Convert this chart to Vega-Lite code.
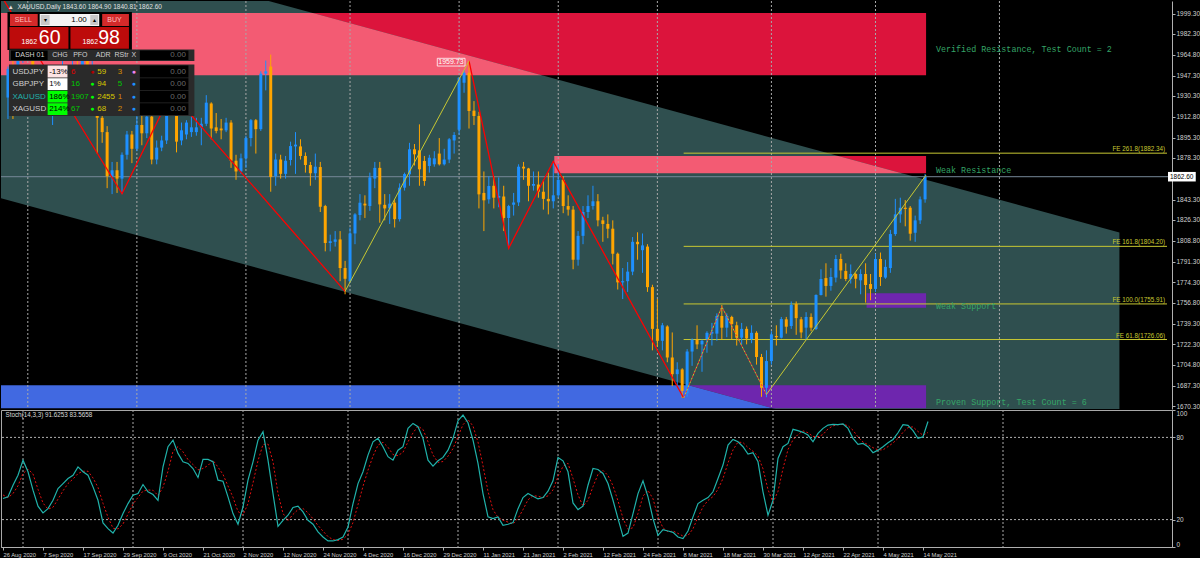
{
"$schema":"https://vega.github.io/schema/vega-lite/v6.json",
"background":"#000000",
"padding":0,
"spacing":1,
"bounds":"flush",
"config":{"view":{"stroke":null},"axis":{"labelFont":"Liberation Sans Narrow, Liberation Sans","labelFontSize":7,"labelColor":"#d0d0d0","tickColor":"#b0b0b0","domainColor":"#b0b0b0","tickSize":3,"labelPadding":1,"grid":false,"labelOverlap":false},"axisX":{"labelFontSize":5.8},"axisY":{"labelFontSize":6.5},"text":{"font":"Liberation Sans"}},
"datasets":{
"bars":[
{"n":0,"o":1929,"h":1955,"l":1911,"c":1953,"k":35.4,"d":38},
{"n":1,"o":1953,"h":1976,"l":1911,"c":1929,"k":36.6,"d":36},
{"n":2,"o":1929,"h":1975,"l":1925,"c":1964,"k":45,"d":39},
{"n":3,"o":1964,"h":1974,"l":1958,"c":1968,"k":52.4,"d":44.7},
{"n":4,"o":1968,"h":1992,"l":1963,"c":1970,"k":63.4,"d":53.6},
{"n":5,"o":1970,"h":1973,"l":1936,"c":1944,"k":54.9,"d":56.9},
{"n":6,"o":1944,"h":1952,"l":1917,"c":1930,"k":41.5,"d":53.3},
{"n":7,"o":1930,"h":1945,"l":1916,"c":1934,"k":29.8,"d":42.1},
{"n":8,"o":1934,"h":1937,"l":1922,"c":1929,"k":24.9,"d":32.1},
{"n":9,"o":1929,"h":1944,"l":1906,"c":1931,"k":28,"d":27.6},
{"n":10,"o":1931,"h":1953,"l":1926,"c":1946,"k":34.1,"d":29},
{"n":11,"o":1946,"h":1965,"l":1942,"c":1947,"k":42.7,"d":34.9},
{"n":12,"o":1947,"h":1952,"l":1939,"c":1940,"k":46.3,"d":41},
{"n":13,"o":1940,"h":1963,"l":1935,"c":1956,"k":50,"d":46.3},
{"n":14,"o":1956,"h":1966,"l":1950,"c":1955,"k":52.4,"d":49.6},
{"n":15,"o":1955,"h":1973,"l":1945,"c":1960,"k":58.5,"d":53.6},
{"n":16,"o":1960,"h":1962,"l":1931,"c":1944,"k":54.9,"d":55.3},
{"n":17,"o":1944,"h":1960,"l":1941,"c":1950,"k":52.4,"d":55.3},
{"n":18,"o":1950,"h":1955,"l":1882,"c":1912,"k":43.9,"d":50.4},
{"n":19,"o":1912,"h":1917,"l":1891,"c":1900,"k":34.1,"d":43.5},
{"n":20,"o":1900,"h":1905,"l":1853,"c":1863,"k":17.6,"d":31.9},
{"n":21,"o":1863,"h":1875,"l":1848,"c":1868,"k":13.4,"d":21.7},
{"n":22,"o":1868,"h":1875,"l":1849,"c":1861,"k":10.2,"d":13.7},
{"n":23,"o":1861,"h":1883,"l":1848,"c":1881,"k":15.9,"d":13.2},
{"n":24,"o":1881,"h":1901,"l":1877,"c":1898,"k":24.4,"d":16.8},
{"n":25,"o":1898,"h":1901,"l":1874,"c":1886,"k":31.7,"d":24},
{"n":26,"o":1886,"h":1917,"l":1884,"c":1906,"k":37.8,"d":31.3},
{"n":27,"o":1906,"h":1918,"l":1889,"c":1899,"k":39,"d":36.2},
{"n":28,"o":1899,"h":1920,"l":1895,"c":1913,"k":45.6,"d":40.8},
{"n":29,"o":1913,"h":1920,"l":1873,"c":1877,"k":40.3,"d":41.6},
{"n":30,"o":1877,"h":1893,"l":1873,"c":1887,"k":38.3,"d":41.4},
{"n":31,"o":1887,"h":1897,"l":1884,"c":1893,"k":34.1,"d":37.6},
{"n":32,"o":1893,"h":1933,"l":1890,"c":1930,"k":58.5,"d":43.6},
{"n":33,"o":1930,"h":1933,"l":1917,"c":1922,"k":73.2,"d":55.3},
{"n":34,"o":1922,"h":1925,"l":1883,"c":1892,"k":78,"d":69.9},
{"n":35,"o":1893,"h":1908,"l":1889,"c":1901.5,"k":68.3,"d":73.2},
{"n":36,"o":1898,"h":1910,"l":1894,"c":1908,"k":62.2,"d":69.5},
{"n":37,"o":1900,"h":1913,"l":1896,"c":1904,"k":61,"d":63.8},
{"n":38,"o":1900,"h":1912,"l":1897,"c":1904,"k":57.3,"d":60.2},
{"n":39,"o":1904,"h":1912,"l":1889,"c":1907,"k":50.7,"d":56.3},
{"n":40,"o":1907,"h":1931,"l":1905,"c":1924.7,"k":63.9,"d":57.3},
{"n":41,"o":1924,"h":1925,"l":1894,"c":1903,"k":63.9,"d":59.5},
{"n":42,"o":1904,"h":1916,"l":1899,"c":1901,"k":62.2,"d":63.3},
{"n":43,"o":1903,"h":1911,"l":1894,"c":1901.5,"k":48.8,"d":58.3},
{"n":44,"o":1901.5,"h":1912,"l":1900,"c":1908,"k":48,"d":53},
{"n":45,"o":1908,"h":1910,"l":1870,"c":1876,"k":36.6,"d":44.5},
{"n":46,"o":1876,"h":1881,"l":1860,"c":1867,"k":24.4,"d":36.3},
{"n":47,"o":1867,"h":1882,"l":1865,"c":1878,"k":16.6,"d":25.9},
{"n":48,"o":1878,"h":1897,"l":1870,"c":1895,"k":29.3,"d":23.4},
{"n":49,"o":1895,"h":1911,"l":1888,"c":1910,"k":48.8,"d":31.6},
{"n":50,"o":1910,"h":1911,"l":1882,"c":1902.5,"k":62.2,"d":46.8},
{"n":51,"o":1902.5,"h":1951,"l":1901,"c":1949,"k":78,"d":63},
{"n":52,"o":1949,"h":1960,"l":1935,"c":1951,"k":84.1,"d":74.8},
{"n":53,"o":1955,"h":1965,"l":1850,"c":1862.4,"k":63.4,"d":75.2},
{"n":54,"o":1863,"h":1882,"l":1855,"c":1877,"k":39,"d":62.2},
{"n":55,"o":1877,"h":1881,"l":1861,"c":1865,"k":15.1,"d":39.2},
{"n":56,"o":1865,"h":1880,"l":1861,"c":1876,"k":19.5,"d":24.5},
{"n":57,"o":1876.6,"h":1892,"l":1872,"c":1888.3,"k":23.2,"d":19.3},
{"n":58,"o":1888,"h":1900,"l":1865,"c":1889.5,"k":28.8,"d":23.8},
{"n":59,"o":1888,"h":1894,"l":1877,"c":1880,"k":29.8,"d":27.3},
{"n":60,"o":1880,"h":1883,"l":1866,"c":1872.4,"k":25.6,"d":28.1},
{"n":61,"o":1872.4,"h":1875,"l":1855,"c":1865.5,"k":19.5,"d":25},
{"n":62,"o":1865.5,"h":1882,"l":1860,"c":1871,"k":16.6,"d":20.6},
{"n":63,"o":1870.7,"h":1875,"l":1833,"c":1837.4,"k":11,"d":15.7},
{"n":64,"o":1838,"h":1839,"l":1800,"c":1807,"k":7.3,"d":11.6},
{"n":65,"o":1807,"h":1814,"l":1800,"c":1808.5,"k":4.4,"d":7.6},
{"n":66,"o":1808,"h":1817,"l":1804,"c":1810,"k":4.4,"d":5.4},
{"n":67,"o":1810,"h":1817,"l":1775,"c":1786,"k":5.4,"d":4.7},
{"n":68,"o":1786,"h":1792,"l":1764,"c":1777,"k":7.3,"d":5.7},
{"n":69,"o":1775,"h":1820,"l":1774,"c":1815,"k":14.6,"d":9.1},
{"n":70,"o":1815,"h":1832,"l":1806,"c":1831,"k":31.7,"d":17.9},
{"n":71,"o":1830.5,"h":1848,"l":1826,"c":1840.8,"k":46.3,"d":30.9},
{"n":72,"o":1840,"h":1847,"l":1828,"c":1838.5,"k":54.9,"d":44.3},
{"n":73,"o":1838,"h":1866,"l":1834,"c":1862,"k":67.1,"d":56.1},
{"n":74,"o":1861,"h":1875,"l":1853,"c":1870,"k":76.8,"d":66.3},
{"n":75,"o":1870,"h":1875,"l":1824,"c":1839.4,"k":79.3,"d":74.4},
{"n":76,"o":1839,"h":1848,"l":1826,"c":1836,"k":73.2,"d":76.4},
{"n":77,"o":1836,"h":1848,"l":1823,"c":1840,"k":65.9,"d":72.8},
{"n":78,"o":1840.8,"h":1843,"l":1820,"c":1827,"k":63.4,"d":67.5},
{"n":79,"o":1827,"h":1857,"l":1825,"c":1853.4,"k":70.7,"d":66.7},
{"n":80,"o":1853.4,"h":1866,"l":1851,"c":1864.8,"k":73.2,"d":69.1},
{"n":81,"o":1864.6,"h":1891,"l":1855,"c":1885.6,"k":86.6,"d":76.8},
{"n":82,"o":1885.6,"h":1890,"l":1872,"c":1881.4,"k":90.2,"d":83.3},
{"n":83,"o":1884.7,"h":1906.5,"l":1855,"c":1868.8,"k":87.8,"d":88.2},
{"n":84,"o":1875.8,"h":1880,"l":1855,"c":1859,"k":79.3,"d":85.8},
{"n":85,"o":1871.6,"h":1881,"l":1866,"c":1878.5,"k":63.4,"d":76.8},
{"n":86,"o":1873,"h":1884,"l":1871,"c":1878,"k":59,"d":67.2},
{"n":87,"o":1882,"h":1895,"l":1872,"c":1873,"k":62.9,"d":61.8},
{"n":88,"o":1873,"h":1886,"l":1872,"c":1877,"k":65.4,"d":62.4},
{"n":89,"o":1877,"h":1895,"l":1874,"c":1894,"k":70.7,"d":66.3},
{"n":90,"o":1893,"h":1900,"l":1882,"c":1897.6,"k":79.3,"d":71.8},
{"n":91,"o":1902,"h":1944,"l":1898,"c":1945.6,"k":92.2,"d":80.7},
{"n":92,"o":1941.4,"h":1952,"l":1933,"c":1949.8,"k":96.3,"d":89.3},
{"n":93,"o":1949.8,"h":1959.7,"l":1903,"c":1917.7,"k":90.7,"d":93.1},
{"n":94,"o":1918,"h":1926,"l":1906,"c":1913.5,"k":78,"d":88.3},
{"n":95,"o":1913.5,"h":1917,"l":1836,"c":1847.8,"k":61,"d":76.6},
{"n":96,"o":1849,"h":1867,"l":1817,"c":1842.8,"k":39,"d":59.3},
{"n":97,"o":1843.6,"h":1863,"l":1840,"c":1854.8,"k":22,"d":40.7},
{"n":98,"o":1855,"h":1863,"l":1836,"c":1845,"k":20.7,"d":27.2},
{"n":99,"o":1845,"h":1862,"l":1837,"c":1846.5,"k":22,"d":21.6},
{"n":100,"o":1846,"h":1855,"l":1817,"c":1828,"k":15.9,"d":19.5},
{"n":101,"o":1828,"h":1839,"l":1802.5,"c":1838,"k":16.6,"d":18.2},
{"n":102,"o":1839,"h":1849,"l":1830,"c":1841,"k":17.8,"d":16.8},
{"n":103,"o":1841,"h":1873,"l":1838,"c":1871,"k":28,"d":20.8},
{"n":104,"o":1871,"h":1875,"l":1860,"c":1869.5,"k":36.1,"d":27.3},
{"n":105,"o":1869.5,"h":1870,"l":1842,"c":1855,"k":39,"d":34.4},
{"n":106,"o":1855,"h":1867,"l":1851,"c":1856.5,"k":37.1,"d":37.4},
{"n":107,"o":1856,"h":1867,"l":1845,"c":1850,"k":35.1,"d":37.1},
{"n":108,"o":1850,"h":1860,"l":1835,"c":1844,"k":36.1,"d":36.1},
{"n":109,"o":1844,"h":1866,"l":1831,"c":1842,"k":40.7,"d":37.3},
{"n":110,"o":1842,"h":1875.5,"l":1836,"c":1847,"k":48.3,"d":41.7},
{"n":111,"o":1847,"h":1873,"l":1845,"c":1860,"k":65.4,"d":51.5},
{"n":112,"o":1860,"h":1863,"l":1832,"c":1838,"k":62.9,"d":58.9},
{"n":113,"o":1838,"h":1847,"l":1830,"c":1835,"k":54.9,"d":61.1},
{"n":114,"o":1835,"h":1838,"l":1785,"c":1793,"k":32.2,"d":50},
{"n":115,"o":1793,"h":1817,"l":1788,"c":1813,"k":27.3,"d":38.1},
{"n":116,"o":1813,"h":1838,"l":1806,"c":1833,"k":29.8,"d":29.8},
{"n":117,"o":1833,"h":1847,"l":1828,"c":1838,"k":45.1,"d":34.1},
{"n":118,"o":1838,"h":1855,"l":1835,"c":1842,"k":57.3,"d":44.1},
{"n":119,"o":1842,"h":1848,"l":1821,"c":1826,"k":56.6,"d":53},
{"n":120,"o":1826,"h":1829,"l":1808,"c":1823,"k":53.7,"d":55.9},
{"n":121,"o":1823,"h":1831,"l":1811,"c":1819,"k":46.3,"d":52.2},
{"n":122,"o":1819,"h":1826,"l":1789,"c":1798,"k":34.1,"d":44.7},
{"n":123,"o":1798,"h":1799,"l":1768,"c":1774,"k":20.7,"d":33.7},
{"n":124,"o":1774,"h":1786,"l":1760,"c":1775,"k":7.8,"d":20.9},
{"n":125,"o":1775,"h":1791,"l":1766,"c":1783,"k":10.2,"d":12.9},
{"n":126,"o":1783,"h":1812,"l":1780,"c":1808,"k":24.4,"d":14.1},
{"n":127,"o":1808,"h":1816,"l":1793,"c":1806,"k":39,"d":24.5},
{"n":128,"o":1801,"h":1815,"l":1782,"c":1805,"k":48.3,"d":37.2},
{"n":129,"o":1804,"h":1806,"l":1766,"c":1770,"k":36.6,"d":41.3},
{"n":130,"o":1770,"h":1772,"l":1717,"c":1735,"k":20.7,"d":35.2},
{"n":131,"o":1735,"h":1760,"l":1720,"c":1725,"k":8.5,"d":21.9},
{"n":132,"o":1725,"h":1740,"l":1717,"c":1738,"k":12.7,"d":14},
{"n":133,"o":1737,"h":1738,"l":1707,"c":1711,"k":11.7,"d":11},
{"n":134,"o":1711,"h":1732,"l":1687,"c":1697,"k":10.7,"d":11.7},
{"n":135,"o":1697,"h":1707,"l":1687,"c":1701,"k":7.3,"d":9.9},
{"n":136,"o":1701,"h":1702,"l":1677,"c":1683,"k":6.1,"d":8},
{"n":137,"o":1681,"h":1718,"l":1678,"c":1716,"k":11.7,"d":8.4},
{"n":138,"o":1716,"h":1727,"l":1704,"c":1726,"k":22,"d":13.3},
{"n":139,"o":1726,"h":1738,"l":1718,"c":1722,"k":31.7,"d":21.8},
{"n":140,"o":1722,"h":1726,"l":1699,"c":1725,"k":34.1,"d":29.3},
{"n":141,"o":1726.5,"h":1733,"l":1715,"c":1731.7,"k":36.1,"d":34},
{"n":142,"o":1731,"h":1740,"l":1721,"c":1732.5,"k":40.3,"d":36.8},
{"n":143,"o":1731,"h":1748,"l":1725,"c":1745.8,"k":50,"d":42.1},
{"n":144,"o":1745.8,"h":1755,"l":1726,"c":1736,"k":59.8,"d":50},
{"n":145,"o":1736,"h":1748,"l":1728,"c":1745.8,"k":74.4,"d":61.4},
{"n":146,"o":1745,"h":1746,"l":1726,"c":1739,"k":78.5,"d":70.9},
{"n":147,"o":1738,"h":1741,"l":1721,"c":1727.6,"k":76.8,"d":76.6},
{"n":148,"o":1727.6,"h":1740,"l":1722,"c":1735,"k":73.2,"d":76.2},
{"n":149,"o":1735,"h":1737,"l":1722,"c":1727,"k":67.8,"d":72.6},
{"n":150,"o":1726.5,"h":1738,"l":1723,"c":1731.7,"k":68.8,"d":69.9},
{"n":151,"o":1731.7,"h":1733,"l":1705,"c":1711.4,"k":62.2,"d":66.3},
{"n":152,"o":1711.4,"h":1714,"l":1678,"c":1685.6,"k":40.3,"d":57.1},
{"n":153,"o":1685.6,"h":1717,"l":1677.7,"c":1708,"k":23.2,"d":41.9},
{"n":154,"o":1708,"h":1733,"l":1705,"c":1730.4,"k":34.1,"d":32.5},
{"n":155,"o":1729,"h":1738,"l":1721,"c":1728,"k":64.6,"d":40.6},
{"n":156,"o":1727.6,"h":1745,"l":1727,"c":1743.2,"k":73.2,"d":57.3},
{"n":157,"o":1743,"h":1745,"l":1731,"c":1736.8,"k":75.6,"d":71.1},
{"n":158,"o":1737.4,"h":1758,"l":1735,"c":1755,"k":85.9,"d":78.2},
{"n":159,"o":1755.8,"h":1758,"l":1730,"c":1744,"k":84.9,"d":82.1},
{"n":160,"o":1743,"h":1745,"l":1727,"c":1732,"k":83.7,"d":84.8},
{"n":161,"o":1736,"h":1749,"l":1726,"c":1745,"k":81.7,"d":83.4},
{"n":162,"o":1745,"h":1748,"l":1733,"c":1736,"k":76.8,"d":80.7},
{"n":163,"o":1734.9,"h":1764,"l":1734,"c":1763.4,"k":82.9,"d":80.5},
{"n":164,"o":1763.4,"h":1785,"l":1763,"c":1776.8,"k":86.6,"d":82.1},
{"n":165,"o":1777.6,"h":1790,"l":1762,"c":1771,"k":89,"d":86.2},
{"n":166,"o":1771,"h":1786,"l":1767,"c":1778.5,"k":89.5,"d":88.4},
{"n":167,"o":1778,"h":1797,"l":1774,"c":1793.6,"k":89.3,"d":89.3},
{"n":168,"o":1793.6,"h":1798,"l":1777,"c":1784,"k":89.8,"d":89.5},
{"n":169,"o":1783.5,"h":1790,"l":1775,"c":1776.8,"k":86.6,"d":88.6},
{"n":170,"o":1777,"h":1789,"l":1773,"c":1781,"k":79.3,"d":85.2},
{"n":171,"o":1781,"h":1782,"l":1769,"c":1777,"k":74.9,"d":80.3},
{"n":172,"o":1775.7,"h":1785,"l":1764,"c":1781,"k":75.6,"d":76.6},
{"n":173,"o":1781,"h":1790,"l":1757,"c":1771.8,"k":73.2,"d":74.6},
{"n":174,"o":1772.6,"h":1781,"l":1759,"c":1768.5,"k":68.8,"d":72.5},
{"n":175,"o":1768.5,"h":1798,"l":1766,"c":1793.6,"k":70.7,"d":70.9},
{"n":176,"o":1793.6,"h":1799,"l":1771,"c":1778.5,"k":73.2,"d":70.9},
{"n":177,"o":1778,"h":1793,"l":1777,"c":1787,"k":76.1,"d":73.3},
{"n":178,"o":1786,"h":1818,"l":1782,"c":1814.5,"k":78.5,"d":75.9},
{"n":179,"o":1814.5,"h":1844,"l":1813,"c":1831,"k":83.4,"d":79.3},
{"n":180,"o":1831,"h":1845,"l":1824,"c":1836.6,"k":89.3,"d":83.7},
{"n":181,"o":1836.6,"h":1843,"l":1821,"c":1835.5,"k":88.8,"d":87.2},
{"n":182,"o":1836.6,"h":1838,"l":1809,"c":1814.8,"k":84.9,"d":87.7},
{"n":183,"o":1815.6,"h":1830,"l":1808,"c":1826,"k":79.3,"d":84.3},
{"n":184,"o":1826,"h":1846,"l":1823,"c":1843.6,"k":80.5,"d":81.6},
{"n":185,"o":1843.6,"h":1864.9,"l":1840.81,"c":1862.6,"k":91.6,"d":83.6}
],
"zones":[
{"name":"Verified Resistance, Test Count = 2","kind":"res","n1":-3,"n2":185.2,"top":1999.9,"bot":1947.6},
{"name":"Weak Resistance","kind":"res","n1":110.2,"n2":185.2,"top":1880,"bot":1865.5},
{"name":"Weak Support","kind":"sup","n1":173.2,"n2":185.2,"top":1764.8,"bot":1752.7},
{"name":"Proven Support, Test Count = 6","kind":"sup","n1":-3,"n2":185.2,"top":1687.7,"bot":1668.5}
],
"chan":[{"n":-3,"up":2072.8,"lo":1846.4},{"n":224.2,"up":1815.9,"lo":1589.4}],
"xor":[
{"g":"vr","kind":"res","n":-3,"top":1999.9,"bot":1947.6},
{"g":"vr","kind":"res","n":61.5,"top":1999.9,"bot":1947.6},
{"g":"vr","kind":"res","n":107.7,"top":1947.6,"bot":1947.6},
{"g":"wr","kind":"res","n":110.2,"top":1880,"bot":1865.5},
{"g":"wr","kind":"res","n":167.5,"top":1880,"bot":1865.5},
{"g":"wr","kind":"res","n":180.3,"top":1865.5,"bot":1865.5},
{"g":"ws","kind":"sup","n":173.2,"top":1764.8,"bot":1752.7},
{"g":"ws","kind":"sup","n":185.2,"top":1764.8,"bot":1752.7},
{"g":"ps","kind":"sup","n":137.3,"top":1687.7,"bot":1687.7},
{"g":"ps","kind":"sup","n":154.3,"top":1687.7,"bot":1668.5},
{"g":"ps","kind":"sup","n":185.2,"top":1687.7,"bot":1668.5}
],
"months":[{"n":4},{"n":26},{"n":48},{"n":69},{"n":91},{"n":111},{"n":131},{"n":154},{"n":175},{"n":200}],
"zz":[
{"seg":"r1","n":-3,"p":2025.4},{"seg":"r1","n":23,"p":1848.3},{"seg":"r1","n":33,"p":1933},{"seg":"r1","n":68,"p":1766.5},
{"seg":"y1","n":68,"p":1766.5},{"seg":"y1","n":93,"p":1959.7},
{"seg":"r2","n":93,"p":1959.7},{"seg":"r2","n":101,"p":1802.5},{"seg":"r2","n":110,"p":1875.5},{"seg":"r2","n":136.3,"p":1677},
{"seg":"dt","n":136.3,"p":1677},{"seg":"dt","n":144,"p":1753.6},{"seg":"dt","n":153,"p":1680},
{"seg":"y2","n":153,"p":1680},{"seg":"y2","n":185.2,"p":1864}
],
"fe":[
{"p":1882.34,"label":"FE 261.8(1882.34)"},
{"p":1804.2,"label":"FE 161.8(1804.20)"},
{"p":1755.91,"label":"FE 100.0(1755.91)"},
{"p":1726.06,"label":"FE 61.8(1726.06)"}
],
"dashRects":[
{"n1":-0.1,"n2":25.0,"p1":2000.73,"p2":1968.86,"kind":"frame"},
{"n1":0.4,"n2":6.0,"p1":1999.05,"p2":1988.99,"kind":"btn"},
{"n1":19.0,"n2":24.4,"p1":1999.05,"p2":1988.99,"kind":"btn"},
{"n1":6.4,"n2":18.4,"p1":1999.05,"p2":1988.99,"kind":"field"},
{"n1":6.6,"n2":8.4,"p1":1998.21,"p2":1989.82,"kind":"arrow"},
{"n1":16.6,"n2":18.2,"p1":1998.21,"p2":1989.82,"kind":"arrow"},
{"n1":0.3,"n2":12.2,"p1":1988.15,"p2":1969.95,"kind":"quote"},
{"n1":12.6,"n2":24.4,"p1":1988.15,"p2":1969.95,"kind":"quote"},
{"n1":0.2,"n2":37.6,"p1":1969.28,"p2":1959.63,"kind":"tbl"},
{"n1":0.6,"n2":8.0,"p1":1968.44,"p2":1960.47,"kind":"cell"},
{"n1":26.6,"n2":36.4,"p1":1968.44,"p2":1960.47,"kind":"cell"},
{"n1":0.2,"n2":37.6,"p1":1956.7,"p2":1913.51,"kind":"tbl"},
{"n1":8.0,"n2":12.0,"p1":1955.86,"p2":1945.8,"kind":"pink"},
{"n1":8.0,"n2":12.0,"p1":1945.13,"p2":1935.32,"kind":"white"},
{"n1":8.0,"n2":12.0,"p1":1934.65,"p2":1924.83,"kind":"lime"},
{"n1":8.0,"n2":12.0,"p1":1924.16,"p2":1914.35,"kind":"lime"},
{"n1":26.6,"n2":36.4,"p1":1955.86,"p2":1945.8,"kind":"cell"},
{"n1":26.6,"n2":36.4,"p1":1945.13,"p2":1935.32,"kind":"cell"},
{"n1":26.6,"n2":36.4,"p1":1934.65,"p2":1924.83,"kind":"cell"},
{"n1":26.6,"n2":36.4,"p1":1924.16,"p2":1914.35,"kind":"cell"}
],
"dashC":[
{"n":3.1,"p":1994.18,"t":"SELL","tone":"pinkish","role":"small"},
{"n":21.5,"p":1994.18,"t":"BUY","tone":"pinkish","role":"small"},
{"n":7.5,"p":1994.18,"t":"▾","tone":"dark","role":"tiny"},
{"n":17.4,"p":1994.18,"t":"▴","tone":"dark","role":"tiny"},
{"n":4.3,"p":1975.15,"t":"1862","tone":"white","role":"small"},
{"n":8.4,"p":1979.09,"t":"60","tone":"white","role":"big"},
{"n":16.6,"p":1975.15,"t":"1862","tone":"white","role":"small"},
{"n":20.4,"p":1979.09,"t":"98","tone":"white","role":"big"},
{"n":4.4,"p":1964.33,"t":"DASH 01","tone":"light","role":"small"},
{"n":10.5,"p":1964.33,"t":"CHG","tone":"light","role":"small"},
{"n":14.6,"p":1964.33,"t":"PFO","tone":"light","role":"small"},
{"n":19.2,"p":1964.33,"t":"ADR","tone":"light","role":"small"},
{"n":22.9,"p":1964.33,"t":"RStr","tone":"light","role":"small"},
{"n":25.4,"p":1964.33,"t":"X","tone":"light","role":"small"},
{"n":17.0,"p":1950.66,"t":"●","tone":"darkred","role":"dot"},
{"n":17.0,"p":1940.1,"t":"●","tone":"lime","role":"dot"},
{"n":17.0,"p":1929.45,"t":"●","tone":"lime","role":"dot"},
{"n":17.0,"p":1919.13,"t":"●","tone":"lime","role":"dot"},
{"n":25.4,"p":1950.66,"t":"●","tone":"violet","role":"dot"},
{"n":25.4,"p":1940.1,"t":"●","tone":"blue","role":"dot"},
{"n":25.4,"p":1929.45,"t":"●","tone":"blue","role":"dot"},
{"n":25.4,"p":1919.13,"t":"●","tone":"blue","role":"dot"},
{"n":22.6,"p":1950.66,"t":"3","tone":"orange","role":"mid"},
{"n":22.6,"p":1940.1,"t":"5","tone":"green","role":"mid"},
{"n":22.6,"p":1929.45,"t":"1","tone":"orange","role":"mid"},
{"n":22.6,"p":1919.13,"t":"2","tone":"orange","role":"mid"}
],
"dashL":[
{"n":0.9,"p":1950.66,"t":"USDJPY","tone":"light","role":"mid"},
{"n":0.9,"p":1940.1,"t":"GBPJPY","tone":"light","role":"mid"},
{"n":0.9,"p":1929.45,"t":"XAUUSD","tone":"teal","role":"mid"},
{"n":0.9,"p":1919.13,"t":"XAGUSD","tone":"light","role":"mid"},
{"n":8.3,"p":1950.66,"t":"-13%","tone":"dark","role":"mid"},
{"n":8.3,"p":1940.1,"t":"1%","tone":"dark","role":"mid"},
{"n":8.3,"p":1929.45,"t":"186%","tone":"dark","role":"mid"},
{"n":8.3,"p":1919.13,"t":"214%","tone":"dark","role":"mid"},
{"n":12.7,"p":1950.66,"t":"6","tone":"red","role":"mid"},
{"n":12.7,"p":1940.1,"t":"16","tone":"green","role":"mid"},
{"n":12.7,"p":1929.45,"t":"1907","tone":"green","role":"mid"},
{"n":12.7,"p":1919.13,"t":"67","tone":"green","role":"mid"},
{"n":18.0,"p":1950.66,"t":"59","tone":"gold","role":"mid"},
{"n":18.0,"p":1940.1,"t":"94","tone":"gold","role":"mid"},
{"n":18.0,"p":1929.45,"t":"2455","tone":"gold","role":"mid"},
{"n":18.0,"p":1919.13,"t":"68","tone":"gold","role":"mid"}
],
"dashR":[
{"n":15.9,"p":1994.18,"t":"1.00","tone":"dark","role":"mid"},
{"n":35.9,"p":1964.33,"t":"0.00","tone":"gray","role":"mid"},
{"n":35.9,"p":1950.66,"t":"0.00","tone":"gray","role":"mid"},
{"n":35.9,"p":1940.1,"t":"0.00","tone":"gray","role":"mid"},
{"n":35.9,"p":1929.45,"t":"0.00","tone":"gray","role":"mid"},
{"n":35.9,"p":1919.13,"t":"0.00","tone":"gray","role":"mid"}
]
},
"vconcat":[
{
"width":1171,"height":408,
"layer":[
{"data":{"name":"zones"},"transform":[{"filter":"datum.kind == 'res'"}],"mark":{"type":"rect","color":"#DC143C","clip":true},
 "encoding":{"x":{"field":"n1","type":"quantitative","scale":{"domain":[-0.4,233.8],"nice":false,"zero":false},"axis":null},"x2":{"field":"n2"},
 "y":{"field":"top","type":"quantitative","scale":{"domain":[1667.8,2009.95],"nice":false,"zero":false},"axis":{"orient":"right","title":null,"format":".2f","labelFlush":false,"values":[1999.3,1982.3,1964.8,1947.3,1930.3,1912.8,1895.3,1878.3,1843.3,1826.3,1808.8,1791.3,1774.3,1756.8,1739.3,1722.3,1704.8,1687.3,1670.3]}},"y2":{"field":"bot"}}},
{"data":{"name":"zones"},"transform":[{"filter":"datum.kind == 'sup'"}],"mark":{"type":"rect","color":"#4169E1","clip":true},
 "encoding":{"x":{"field":"n1","type":"quantitative","scale":{"domain":[-0.4,233.8],"nice":false,"zero":false},"axis":null},"x2":{"field":"n2"},
 "y":{"field":"top","type":"quantitative","scale":{"domain":[1667.8,2009.95],"nice":false,"zero":false},"axis":{"orient":"right","title":null,"format":".2f","labelFlush":false,"values":[1999.3,1982.3,1964.8,1947.3,1930.3,1912.8,1895.3,1878.3,1843.3,1826.3,1808.8,1791.3,1774.3,1756.8,1739.3,1722.3,1704.8,1687.3,1670.3]}},"y2":{"field":"bot"}}},
{"data":{"name":"chan"},"mark":{"type":"area","color":"#2F4F4F","opacity":1,"clip":true},
 "encoding":{"x":{"field":"n","type":"quantitative","scale":{"domain":[-0.4,233.8],"nice":false,"zero":false},"axis":null},
 "y":{"field":"up","type":"quantitative","scale":{"domain":[1667.8,2009.95],"nice":false,"zero":false},"axis":{"orient":"right","title":null,"format":".2f","labelFlush":false,"values":[1999.3,1982.3,1964.8,1947.3,1930.3,1912.8,1895.3,1878.3,1843.3,1826.3,1808.8,1791.3,1774.3,1756.8,1739.3,1722.3,1704.8,1687.3,1670.3]}},"y2":{"field":"lo"}}},
{"data":{"name":"xor"},"transform":[{"filter":"datum.kind == 'res'"}],"mark":{"type":"area","color":"#F35B73","opacity":1,"clip":true},
 "encoding":{"x":{"field":"n","type":"quantitative","scale":{"domain":[-0.4,233.8],"nice":false,"zero":false},"axis":null},
 "y":{"field":"top","type":"quantitative","scale":{"domain":[1667.8,2009.95],"nice":false,"zero":false},"axis":{"orient":"right","title":null,"format":".2f","labelFlush":false,"values":[1999.3,1982.3,1964.8,1947.3,1930.3,1912.8,1895.3,1878.3,1843.3,1826.3,1808.8,1791.3,1774.3,1756.8,1739.3,1722.3,1704.8,1687.3,1670.3]}},"y2":{"field":"bot"},"detail":{"field":"g"}}},
{"data":{"name":"xor"},"transform":[{"filter":"datum.kind == 'sup'"}],"mark":{"type":"area","color":"#6E26AE","opacity":1,"clip":true},
 "encoding":{"x":{"field":"n","type":"quantitative","scale":{"domain":[-0.4,233.8],"nice":false,"zero":false},"axis":null},
 "y":{"field":"top","type":"quantitative","scale":{"domain":[1667.8,2009.95],"nice":false,"zero":false},"axis":{"orient":"right","title":null,"format":".2f","labelFlush":false,"values":[1999.3,1982.3,1964.8,1947.3,1930.3,1912.8,1895.3,1878.3,1843.3,1826.3,1808.8,1791.3,1774.3,1756.8,1739.3,1722.3,1704.8,1687.3,1670.3]}},"y2":{"field":"bot"},"detail":{"field":"g"}}},
{"data":{"name":"months"},"mark":{"type":"rule","color":"#a8a8a8","strokeDash":[2,2],"strokeWidth":1},
 "encoding":{"x":{"field":"n","type":"quantitative","scale":{"domain":[-0.4,233.8],"nice":false,"zero":false},"axis":null}}},
{"data":{"values":[{"p":1862.6}]},"mark":{"type":"rule","color":"#778899","strokeWidth":1},
 "encoding":{"y":{"field":"p","type":"quantitative","scale":{"domain":[1667.8,2009.95],"nice":false,"zero":false},"axis":{"orient":"right","title":null,"format":".2f","labelFlush":false,"values":[1999.3,1982.3,1964.8,1947.3,1930.3,1912.8,1895.3,1878.3,1843.3,1826.3,1808.8,1791.3,1774.3,1756.8,1739.3,1722.3,1704.8,1687.3,1670.3]}}}},
{"data":{"name":"fe"},"mark":{"type":"rule","color":"#c8c832","strokeWidth":1,"clip":true},
 "encoding":{"x":{"datum":136.3,"type":"quantitative","scale":{"domain":[-0.4,233.8],"nice":false,"zero":false},"axis":null},"x2":{"datum":233.8},
 "y":{"field":"p","type":"quantitative","scale":{"domain":[1667.8,2009.95],"nice":false,"zero":false},"axis":{"orient":"right","title":null,"format":".2f","labelFlush":false,"values":[1999.3,1982.3,1964.8,1947.3,1930.3,1912.8,1895.3,1878.3,1843.3,1826.3,1808.8,1791.3,1774.3,1756.8,1739.3,1722.3,1704.8,1687.3,1670.3]}}}},
{"data":{"name":"bars"},"mark":{"type":"rule","strokeWidth":1},
 "encoding":{"x":{"field":"n","type":"quantitative","scale":{"domain":[-0.4,233.8],"nice":false,"zero":false},"axis":null},
 "y":{"field":"l","type":"quantitative","scale":{"domain":[1667.8,2009.95],"nice":false,"zero":false},"axis":{"orient":"right","title":null,"format":".2f","labelFlush":false,"values":[1999.3,1982.3,1964.8,1947.3,1930.3,1912.8,1895.3,1878.3,1843.3,1826.3,1808.8,1791.3,1774.3,1756.8,1739.3,1722.3,1704.8,1687.3,1670.3]}},"y2":{"field":"h"},
 "color":{"condition":{"test":"datum.c >= datum.o","value":"#1E90FF"},"value":"#FFA500"}}},
{"data":{"name":"bars"},"mark":{"type":"bar","width":3},
 "encoding":{"x":{"field":"n","type":"quantitative","scale":{"domain":[-0.4,233.8],"nice":false,"zero":false},"axis":null},
 "y":{"field":"o","type":"quantitative","scale":{"domain":[1667.8,2009.95],"nice":false,"zero":false},"axis":{"orient":"right","title":null,"format":".2f","labelFlush":false,"values":[1999.3,1982.3,1964.8,1947.3,1930.3,1912.8,1895.3,1878.3,1843.3,1826.3,1808.8,1791.3,1774.3,1756.8,1739.3,1722.3,1704.8,1687.3,1670.3]}},"y2":{"field":"c"},
 "color":{"condition":{"test":"datum.c >= datum.o","value":"#1E90FF"},"value":"#FFA500"}}},
{"data":{"name":"zz"},"transform":[{"filter":"datum.seg == 'r1' || datum.seg == 'r2'"}],"mark":{"type":"line","color":"#FF0000","strokeWidth":1.3,"clip":true},
 "encoding":{"x":{"field":"n","type":"quantitative","scale":{"domain":[-0.4,233.8],"nice":false,"zero":false},"axis":null},
 "y":{"field":"p","type":"quantitative","scale":{"domain":[1667.8,2009.95],"nice":false,"zero":false},"axis":{"orient":"right","title":null,"format":".2f","labelFlush":false,"values":[1999.3,1982.3,1964.8,1947.3,1930.3,1912.8,1895.3,1878.3,1843.3,1826.3,1808.8,1791.3,1774.3,1756.8,1739.3,1722.3,1704.8,1687.3,1670.3]}},"detail":{"field":"seg"}}},
{"data":{"name":"zz"},"transform":[{"filter":"datum.seg == 'y1' || datum.seg == 'y2'"}],"mark":{"type":"line","color":"#c8c832","strokeWidth":1,"clip":true},
 "encoding":{"x":{"field":"n","type":"quantitative","scale":{"domain":[-0.4,233.8],"nice":false,"zero":false},"axis":null},
 "y":{"field":"p","type":"quantitative","scale":{"domain":[1667.8,2009.95],"nice":false,"zero":false},"axis":{"orient":"right","title":null,"format":".2f","labelFlush":false,"values":[1999.3,1982.3,1964.8,1947.3,1930.3,1912.8,1895.3,1878.3,1843.3,1826.3,1808.8,1791.3,1774.3,1756.8,1739.3,1722.3,1704.8,1687.3,1670.3]}},"detail":{"field":"seg"}}},
{"data":{"name":"zz"},"transform":[{"filter":"datum.seg == 'dt'"}],"mark":{"type":"line","color":"#c8c832","strokeWidth":1,"strokeDash":[2,2]},
 "encoding":{"x":{"field":"n","type":"quantitative","scale":{"domain":[-0.4,233.8],"nice":false,"zero":false},"axis":null},
 "y":{"field":"p","type":"quantitative","scale":{"domain":[1667.8,2009.95],"nice":false,"zero":false},"axis":{"orient":"right","title":null,"format":".2f","labelFlush":false,"values":[1999.3,1982.3,1964.8,1947.3,1930.3,1912.8,1895.3,1878.3,1843.3,1826.3,1808.8,1791.3,1774.3,1756.8,1739.3,1722.3,1704.8,1687.3,1670.3]}}}},
{"data":{"name":"zz"},"transform":[{"filter":"datum.seg == 'dt'"}],"mark":{"type":"line","color":"#ff3030","strokeWidth":1,"strokeDash":[2,2],"strokeDashOffset":2},
 "encoding":{"x":{"field":"n","type":"quantitative","scale":{"domain":[-0.4,233.8],"nice":false,"zero":false},"axis":null},
 "y":{"field":"p","type":"quantitative","scale":{"domain":[1667.8,2009.95],"nice":false,"zero":false},"axis":{"orient":"right","title":null,"format":".2f","labelFlush":false,"values":[1999.3,1982.3,1964.8,1947.3,1930.3,1912.8,1895.3,1878.3,1843.3,1826.3,1808.8,1791.3,1774.3,1756.8,1739.3,1722.3,1704.8,1687.3,1670.3]}}}},
{"data":{"name":"fe"},"mark":{"type":"text","align":"right","baseline":"bottom","dy":-1,"fontSize":6.3,"font":"Liberation Sans Narrow, Liberation Sans","color":"#c8c832"},
 "encoding":{"x":{"datum":233.4,"type":"quantitative","scale":{"domain":[-0.4,233.8],"nice":false,"zero":false},"axis":null},
 "y":{"field":"p","type":"quantitative","scale":{"domain":[1667.8,2009.95],"nice":false,"zero":false},"axis":{"orient":"right","title":null,"format":".2f","labelFlush":false,"values":[1999.3,1982.3,1964.8,1947.3,1930.3,1912.8,1895.3,1878.3,1843.3,1826.3,1808.8,1791.3,1774.3,1756.8,1739.3,1722.3,1704.8,1687.3,1670.3]}},"text":{"field":"label"}}},
{"data":{"name":"zones"},"transform":[{"calculate":"(datum.top + datum.bot) / 2","as":"mid"}],"mark":{"type":"text","align":"left","baseline":"middle","dy":5,"fontSize":8.4,"font":"Liberation Mono","color":"#35a567"},
 "encoding":{"x":{"datum":187.2,"type":"quantitative","scale":{"domain":[-0.4,233.8],"nice":false,"zero":false},"axis":null},
 "y":{"field":"mid","type":"quantitative","scale":{"domain":[1667.8,2009.95],"nice":false,"zero":false},"axis":{"orient":"right","title":null,"format":".2f","labelFlush":false,"values":[1999.3,1982.3,1964.8,1947.3,1930.3,1912.8,1895.3,1878.3,1843.3,1826.3,1808.8,1791.3,1774.3,1756.8,1739.3,1722.3,1704.8,1687.3,1670.3]}},"text":{"field":"name"}}},
{"data":{"values":[{"n1":86.6,"n2":92.2,"p1":1961.9,"p2":1955.4}]},"mark":{"type":"rect","filled":false,"stroke":"#ffffff","strokeWidth":0.8},
 "encoding":{"x":{"field":"n1","type":"quantitative","scale":{"domain":[-0.4,233.8],"nice":false,"zero":false},"axis":null},"x2":{"field":"n2"},
 "y":{"field":"p1","type":"quantitative","scale":{"domain":[1667.8,2009.95],"nice":false,"zero":false},"axis":{"orient":"right","title":null,"format":".2f","labelFlush":false,"values":[1999.3,1982.3,1964.8,1947.3,1930.3,1912.8,1895.3,1878.3,1843.3,1826.3,1808.8,1791.3,1774.3,1756.8,1739.3,1722.3,1704.8,1687.3,1670.3]}},"y2":{"field":"p2"}}},
{"data":{"values":[{"n":91.9,"p":1958.7,"t":"1959.73"}]},"mark":{"type":"text","align":"right","baseline":"middle","fontSize":7,"font":"Liberation Sans Narrow, Liberation Sans","color":"#ffffff"},
 "encoding":{"x":{"field":"n","type":"quantitative","scale":{"domain":[-0.4,233.8],"nice":false,"zero":false},"axis":null},
 "y":{"field":"p","type":"quantitative","scale":{"domain":[1667.8,2009.95],"nice":false,"zero":false},"axis":{"orient":"right","title":null,"format":".2f","labelFlush":false,"values":[1999.3,1982.3,1964.8,1947.3,1930.3,1912.8,1895.3,1878.3,1843.3,1826.3,1808.8,1791.3,1774.3,1756.8,1739.3,1722.3,1704.8,1687.3,1670.3]}},"text":{"field":"t"}}},
{"data":{"name":"dashRects"},"mark":{"type":"rect"},
 "encoding":{"x":{"field":"n1","type":"quantitative","scale":{"domain":[-0.4,233.8],"nice":false,"zero":false},"axis":null},"x2":{"field":"n2"},
 "y":{"field":"p1","type":"quantitative","scale":{"domain":[1667.8,2009.95],"nice":false,"zero":false},"axis":{"orient":"right","title":null,"format":".2f","labelFlush":false,"values":[1999.3,1982.3,1964.8,1947.3,1930.3,1912.8,1895.3,1878.3,1843.3,1826.3,1808.8,1791.3,1774.3,1756.8,1739.3,1722.3,1704.8,1687.3,1670.3]}},"y2":{"field":"p2"},
 "fill":{"field":"kind","type":"nominal","legend":null,"scale":{"domain":["frame","btn","field","arrow","quote","tbl","cell","pink","white","lime"],"range":["#000000","#d42a2a","#f4f4f4","#c8c8c8","#bd0b0b","#2a2a2a","#000000","#fde4e4","#ffffff","#00ff00"]}}}},
{"data":{"name":"dashC"},"mark":{"type":"text","align":"center","baseline":"middle"},
 "encoding":{"x":{"field":"n","type":"quantitative","scale":{"domain":[-0.4,233.8],"nice":false,"zero":false},"axis":null},
 "y":{"field":"p","type":"quantitative","scale":{"domain":[1667.8,2009.95],"nice":false,"zero":false},"axis":{"orient":"right","title":null,"format":".2f","labelFlush":false,"values":[1999.3,1982.3,1964.8,1947.3,1930.3,1912.8,1895.3,1878.3,1843.3,1826.3,1808.8,1791.3,1774.3,1756.8,1739.3,1722.3,1704.8,1687.3,1670.3]}},"text":{"field":"t"},
 "color":{"field":"tone","type":"nominal","legend":null,"scale":{"domain":["light","teal","dark","red","green","gold","orange","gray","white","pinkish","violet","blue","darkred","lime"],"range":["#d0d0d0","#20b2aa","#000000","#e00000","#00c800","#d8c800","#d98c00","#6a6a6a","#ffffff","#ffc0c0","#ee82ee","#1e90ff","#b00000","#00ff00"]}},
 "size":{"field":"role","type":"nominal","legend":null,"scale":{"type":"ordinal","domain":["big","mid","small","tiny","dot"],"range":[19.5,8,7,6,7]}}}},
{"data":{"name":"dashL"},"mark":{"type":"text","align":"left","baseline":"middle"},
 "encoding":{"x":{"field":"n","type":"quantitative","scale":{"domain":[-0.4,233.8],"nice":false,"zero":false},"axis":null},
 "y":{"field":"p","type":"quantitative","scale":{"domain":[1667.8,2009.95],"nice":false,"zero":false},"axis":{"orient":"right","title":null,"format":".2f","labelFlush":false,"values":[1999.3,1982.3,1964.8,1947.3,1930.3,1912.8,1895.3,1878.3,1843.3,1826.3,1808.8,1791.3,1774.3,1756.8,1739.3,1722.3,1704.8,1687.3,1670.3]}},"text":{"field":"t"},
 "color":{"field":"tone","type":"nominal","legend":null,"scale":{"domain":["light","teal","dark","red","green","gold","orange","gray","white","pinkish","violet","blue","darkred","lime"],"range":["#d0d0d0","#20b2aa","#000000","#e00000","#00c800","#d8c800","#d98c00","#6a6a6a","#ffffff","#ffc0c0","#ee82ee","#1e90ff","#b00000","#00ff00"]}},
 "size":{"field":"role","type":"nominal","legend":null,"scale":{"type":"ordinal","domain":["big","mid","small","tiny","dot"],"range":[19.5,8,7,6,7]}}}},
{"data":{"name":"dashR"},"mark":{"type":"text","align":"right","baseline":"middle"},
 "encoding":{"x":{"field":"n","type":"quantitative","scale":{"domain":[-0.4,233.8],"nice":false,"zero":false},"axis":null},
 "y":{"field":"p","type":"quantitative","scale":{"domain":[1667.8,2009.95],"nice":false,"zero":false},"axis":{"orient":"right","title":null,"format":".2f","labelFlush":false,"values":[1999.3,1982.3,1964.8,1947.3,1930.3,1912.8,1895.3,1878.3,1843.3,1826.3,1808.8,1791.3,1774.3,1756.8,1739.3,1722.3,1704.8,1687.3,1670.3]}},"text":{"field":"t"},
 "color":{"field":"tone","type":"nominal","legend":null,"scale":{"domain":["light","teal","dark","red","green","gold","orange","gray","white","pinkish","violet","blue","darkred","lime"],"range":["#d0d0d0","#20b2aa","#000000","#e00000","#00c800","#d8c800","#d98c00","#6a6a6a","#ffffff","#ffc0c0","#ee82ee","#1e90ff","#b00000","#00ff00"]}},
 "size":{"field":"role","type":"nominal","legend":null,"scale":{"type":"ordinal","domain":["big","mid","small","tiny","dot"],"range":[19.5,8,7,6,7]}}}},
{"data":{"values":[{"n":1.9,"p":2004.92,"t":"XAUUSD,Daily  1843.60 1864.90 1840.81 1862.60"},{"n":0.2,"p":2004.92,"t":"▴"}]},"mark":{"type":"text","align":"left","baseline":"middle","fontSize":6.5,"font":"Liberation Sans Narrow, Liberation Sans","color":"#e0e0e0"},
 "encoding":{"x":{"field":"n","type":"quantitative","scale":{"domain":[-0.4,233.8],"nice":false,"zero":false},"axis":null},
 "y":{"field":"p","type":"quantitative","scale":{"domain":[1667.8,2009.95],"nice":false,"zero":false},"axis":{"orient":"right","title":null,"format":".2f","labelFlush":false,"values":[1999.3,1982.3,1964.8,1947.3,1930.3,1912.8,1895.3,1878.3,1843.3,1826.3,1808.8,1791.3,1774.3,1756.8,1739.3,1722.3,1704.8,1687.3,1670.3]}},"text":{"field":"t"}}},
{"data":{"values":[{"a":234.0,"b":239.6,"p1":1866.6,"p2":1858.6}]},"mark":{"type":"rect","color":"#ffffff"},
 "encoding":{"x":{"field":"a","type":"quantitative","scale":{"domain":[-0.4,233.8],"nice":false,"zero":false},"axis":null},"x2":{"field":"b"},
 "y":{"field":"p1","type":"quantitative","scale":{"domain":[1667.8,2009.95],"nice":false,"zero":false},"axis":{"orient":"right","title":null,"format":".2f","labelFlush":false,"values":[1999.3,1982.3,1964.8,1947.3,1930.3,1912.8,1895.3,1878.3,1843.3,1826.3,1808.8,1791.3,1774.3,1756.8,1739.3,1722.3,1704.8,1687.3,1670.3]}},"y2":{"field":"p2"}}},
{"data":{"values":[{"n":234.4,"p":1862.6,"t":"1862.60"}]},"mark":{"type":"text","align":"left","baseline":"middle","fontSize":6.5,"font":"Liberation Sans Narrow, Liberation Sans","color":"#000000"},
 "encoding":{"x":{"field":"n","type":"quantitative","scale":{"domain":[-0.4,233.8],"nice":false,"zero":false},"axis":null},
 "y":{"field":"p","type":"quantitative","scale":{"domain":[1667.8,2009.95],"nice":false,"zero":false},"axis":{"orient":"right","title":null,"format":".2f","labelFlush":false,"values":[1999.3,1982.3,1964.8,1947.3,1930.3,1912.8,1895.3,1878.3,1843.3,1826.3,1808.8,1791.3,1774.3,1756.8,1739.3,1722.3,1704.8,1687.3,1670.3]}},"text":{"field":"t"}}}
]
},
{
"width":1171,"height":137,
"view":{"stroke":"#a8a8a8","strokeWidth":1},
"layer":[
{"data":{"name":"months"},"mark":{"type":"rule","color":"#a8a8a8","strokeDash":[2,2],"strokeWidth":1},
 "encoding":{"x":{"field":"n","type":"quantitative","scale":{"domain":[-0.4,233.8],"nice":false,"zero":false},
 "axis":{"title":null,"values":[0,8,16,24,32,40,48,56,64,72,80,88,96,104,112,120,128,136,144,152,160,168,176,184],"labelAlign":"left","labelFlush":false,"labelExpr":"['26 Aug 2020','7 Sep 2020','17 Sep 2020','29 Sep 2020','9 Oct 2020','21 Oct 2020','2 Nov 2020','12 Nov 2020','24 Nov 2020','4 Dec 2020','16 Dec 2020','29 Dec 2020','11 Jan 2021','21 Jan 2021','2 Feb 2021','12 Feb 2021','24 Feb 2021','8 Mar 2021','18 Mar 2021','30 Mar 2021','12 Apr 2021','22 Apr 2021','4 May 2021','14 May 2021'][round(datum.value/8)]"}}}},
{"data":{"values":[{"v":20},{"v":80}]},"mark":{"type":"rule","color":"#b0b0b0","strokeDash":[2,2],"strokeWidth":1},
 "encoding":{"y":{"field":"v","type":"quantitative","scale":{"domain":[0,100],"nice":false,"zero":false},"axis":{"orient":"right","title":null,"values":[0,20,80,100],"labelFlush":true}}}},
{"data":{"name":"bars"},"mark":{"type":"line","color":"#e01010","strokeWidth":1,"strokeDash":[2,2]},
 "encoding":{"x":{"field":"n","type":"quantitative","scale":{"domain":[-0.4,233.8],"nice":false,"zero":false},
 "axis":{"title":null,"values":[0,8,16,24,32,40,48,56,64,72,80,88,96,104,112,120,128,136,144,152,160,168,176,184],"labelAlign":"left","labelFlush":false,"labelExpr":"['26 Aug 2020','7 Sep 2020','17 Sep 2020','29 Sep 2020','9 Oct 2020','21 Oct 2020','2 Nov 2020','12 Nov 2020','24 Nov 2020','4 Dec 2020','16 Dec 2020','29 Dec 2020','11 Jan 2021','21 Jan 2021','2 Feb 2021','12 Feb 2021','24 Feb 2021','8 Mar 2021','18 Mar 2021','30 Mar 2021','12 Apr 2021','22 Apr 2021','4 May 2021','14 May 2021'][round(datum.value/8)]"}},
 "y":{"field":"d","type":"quantitative","scale":{"domain":[0,100],"nice":false,"zero":false},"axis":{"orient":"right","title":null,"values":[0,20,80,100],"labelFlush":true}}}},
{"data":{"name":"bars"},"mark":{"type":"line","color":"#20B2AA","strokeWidth":1.2},
 "encoding":{"x":{"field":"n","type":"quantitative","scale":{"domain":[-0.4,233.8],"nice":false,"zero":false},
 "axis":{"title":null,"values":[0,8,16,24,32,40,48,56,64,72,80,88,96,104,112,120,128,136,144,152,160,168,176,184],"labelAlign":"left","labelFlush":false,"labelExpr":"['26 Aug 2020','7 Sep 2020','17 Sep 2020','29 Sep 2020','9 Oct 2020','21 Oct 2020','2 Nov 2020','12 Nov 2020','24 Nov 2020','4 Dec 2020','16 Dec 2020','29 Dec 2020','11 Jan 2021','21 Jan 2021','2 Feb 2021','12 Feb 2021','24 Feb 2021','8 Mar 2021','18 Mar 2021','30 Mar 2021','12 Apr 2021','22 Apr 2021','4 May 2021','14 May 2021'][round(datum.value/8)]"}},
 "y":{"field":"k","type":"quantitative","scale":{"domain":[0,100],"nice":false,"zero":false},"axis":{"orient":"right","title":null,"values":[0,20,80,100],"labelFlush":true}}}},
{"data":{"values":[{"n":0.5,"v":96.5,"t":"Stoch(14,3,3) 91.6253 83.5658"}]},"mark":{"type":"text","align":"left","baseline":"middle","fontSize":6.3,"font":"Liberation Sans Narrow, Liberation Sans","color":"#d8d8d8"},
 "encoding":{"x":{"field":"n","type":"quantitative","scale":{"domain":[-0.4,233.8],"nice":false,"zero":false},
 "axis":{"title":null,"values":[0,8,16,24,32,40,48,56,64,72,80,88,96,104,112,120,128,136,144,152,160,168,176,184],"labelAlign":"left","labelFlush":false,"labelExpr":"['26 Aug 2020','7 Sep 2020','17 Sep 2020','29 Sep 2020','9 Oct 2020','21 Oct 2020','2 Nov 2020','12 Nov 2020','24 Nov 2020','4 Dec 2020','16 Dec 2020','29 Dec 2020','11 Jan 2021','21 Jan 2021','2 Feb 2021','12 Feb 2021','24 Feb 2021','8 Mar 2021','18 Mar 2021','30 Mar 2021','12 Apr 2021','22 Apr 2021','4 May 2021','14 May 2021'][round(datum.value/8)]"}},
 "y":{"field":"v","type":"quantitative","scale":{"domain":[0,100],"nice":false,"zero":false},"axis":{"orient":"right","title":null,"values":[0,20,80,100],"labelFlush":true}},"text":{"field":"t"}}}
]
}
]
}
